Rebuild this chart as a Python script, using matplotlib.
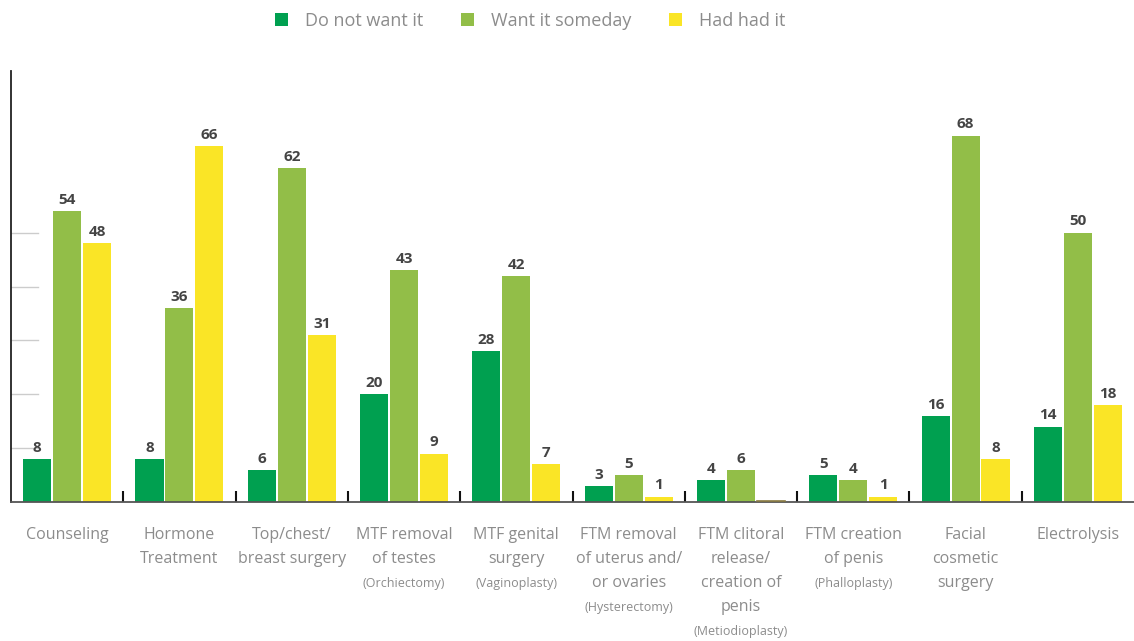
import numpy as np
import matplotlib
matplotlib.use("Agg")
import matplotlib.pyplot as plt
from matplotlib.patches import Patch

plt.rcParams['font.family'] = ['Open Sans', 'DejaVu Sans']

# Data
categories = [
    ["Counseling"],
    ["Hormone", "Treatment"],
    ["Top/chest/", "breast surgery"],
    ["MTF removal", "of testes"],
    ["MTF genital", "surgery"],
    ["FTM removal", "of uterus and/", "or ovaries"],
    ["FTM clitoral", "release/", "creation of", "penis"],
    ["FTM creation", "of penis"],
    ["Facial", "cosmetic", "surgery"],
    ["Electrolysis"],
]
subnotes = ["", "", "", "(Orchiectomy)", "(Vaginoplasty)", "(Hysterectomy)",
            "(Metiodioplasty)", "(Phalloplasty)", "", ""]

do_not_want = [8, 8, 6, 20, 28, 3, 4, 5, 16, 14]
want_someday = [54, 36, 62, 43, 42, 5, 6, 4, 68, 50]
had_it = [48, 66, 31, 9, 7, 1, 0, 1, 8, 18]

series_names = ["Do not want it", "Want it someday", "Had had it"]
colors = ["#00A050", "#92BE48", "#FAE526"]

fig = plt.figure(figsize=(11.34, 6.41), dpi=100)
ax = fig.add_axes([11 / 1134, 139 / 641, 1 - 11 / 1134, 431 / 641])

x = np.arange(len(categories))
width = 0.25
step = 0.267

for i, (vals, col) in enumerate(zip([do_not_want, want_someday, had_it], colors)):
    pos = x + (i - 1) * step
    ax.bar(pos, vals, width=width, color=col, zorder=2)
    for p, v in zip(pos, vals):
        if v > 0:
            ax.annotate(str(v), (p, v), xytext=(0, 3), textcoords="offset points",
                        ha="center", va="bottom", fontsize=11, fontweight="bold",
                        color="#444444")
    if i == 2:
        # zero value drawn as a thin line
        for p, v in zip(pos, vals):
            if v == 0:
                ax.plot([p - width / 2, p + width / 2], [0.15, 0.15],
                        color="#8a7a40", lw=1.2, zorder=3)

ax.set_xlim(-0.5, len(categories) - 0.5)
ax.set_ylim(0, 80)

# short grid marks near the left axis
for g in [10, 20, 30, 40, 50]:
    ax.plot([-0.5, -0.26], [g, g], color="#cccccc", lw=1, zorder=1)

ax.spines["top"].set_visible(False)
ax.spines["right"].set_visible(False)
ax.spines["left"].set_color("#222222")
ax.spines["left"].set_linewidth(1.3)
ax.spines["bottom"].set_color("#555555")
ax.spines["bottom"].set_linewidth(1.3)
ax.set_yticks([])
ax.set_xticks(x[:-1] + 0.5)
ax.set_xticklabels([])
ax.tick_params(axis="x", direction="in", length=8, width=1.5, color="#111111")

# category labels
for xi, lines, note in zip(x, categories, subnotes):
    for j, line in enumerate(lines):
        ax.annotate(line, (xi, 0), xycoords="data", xytext=(0, -24 - 17.3 * j),
                    textcoords="offset points", ha="center", va="center",
                    fontsize=11.5, color="#8c8c8c")
    if note:
        ax.annotate(note, (xi, 0), xycoords="data",
                    xytext=(0, -24 - 17.3 * len(lines)),
                    textcoords="offset points", ha="center", va="center",
                    fontsize=9, color="#8c8c8c")

handles = [Patch(facecolor=c, edgecolor="none") for c in colors]
fig.legend(handles, series_names, loc="center", bbox_to_anchor=(530 / 1134, 1 - 21 / 641),
           ncol=3, frameon=False, fontsize=13, labelcolor="#8c8c8c",
           handlelength=0.75, handleheight=0.75, handletextpad=0.9, columnspacing=2.1)

fig.savefig("out.png", dpi=100)
